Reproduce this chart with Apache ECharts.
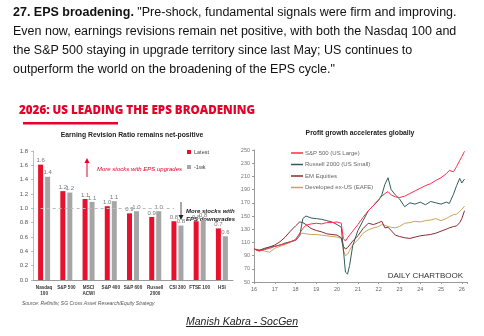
<!DOCTYPE html>
<html><head><meta charset="utf-8">
<script src="https://cdn.jsdelivr.net/npm/echarts@6/dist/echarts.min.js"></script>
<style>
html,body{margin:0;padding:0;background:#fff;width:484px;height:336px;overflow:hidden;font-family:"Liberation Sans",Arial,sans-serif}
#chart{position:absolute;left:0;top:0;width:484px;height:336px}
#para{position:absolute;left:13px;top:3px;font-size:12.5px;line-height:19px;color:#111;white-space:nowrap}
#foot{position:absolute;left:0;width:484px;top:315px;text-align:center;font-style:italic;text-decoration:underline;font-size:10.5px;color:#222}
</style></head>
<body>
<div id="chart"></div>
<div id="para"><b>27. EPS broadening.</b> "Pre-shock, fundamental signals were firm and improving.<br>Even now, earnings revisions remain net positive, with both the Nasdaq 100 and<br>the S&amp;P 500 staying in upgrade territory since last May; US continues to<br>outperform the world on the broadening of the EPS cycle."</div>
<div id="foot">Manish Kabra - SocGen</div>
<script>
// ---- Left chart data ----
const categories = ['Nasdaq\n100','S&P 500','MSCI\nACWI','S&P 400','S&P 600','Russell\n2000','CSI 300','FTSE 100','HSI'];
const latest = [1.61, 1.24, 1.13, 1.03, 0.93, 0.88, 0.82, 0.82, 0.72];
const oneWeek = [1.44, 1.22, 1.09, 1.10, 0.96, 0.96, 0.76, 0.84, 0.61];

// ---- Right chart data (index, start = 100) ----
const dates = [16.0,16.25,16.5,16.75,17.0,17.25,17.5,17.75,18.0,18.2,18.35,18.5,18.75,19.0,19.25,19.5,19.75,20.0,20.2,20.3,20.4,20.5,20.6,20.75,21.0,21.25,21.5,21.75,22.0,22.15,22.3,22.45,22.6,22.8,23.0,23.25,23.5,23.75,24.0,24.25,24.5,24.75,25.0,25.25,25.4,25.6,25.75,25.9,26.0,26.13];
const sp500 = [100,97,99,101,104,106,108,111,114,124,131,136,138,139,138,140,140,141,139,116,112,117,121,127,137,148,158,166,175,180,184,187,182,179,178,180,184,188,192,196,199,204,208,214,219,217,225,234,240,248];
const russell2000 = [100,98,101,103,104,106,109,111,113,120,146,150,147,146,145,143,141,137,133,100,65,62,75,105,128,143,158,166,174,182,198,208,190,182,176,164,170,168,171,167,172,170,168,171,169,183,196,207,200,206];
const emEquities = [100,97,100,103,106,111,118,127,135,141,140,137,131,128,126,123,122,121,117,104,100,102,106,112,120,131,139,137,140,142,132,133,128,121,119,117,116,118,120,121,122,124,127,130,132,134,135,140,146,158];
const eafe = [100,99,97,95,101,104,107,110,115,122,124,123,122,122,121,120,119,118,116,98,90,92,98,106,114,124,129,132,134,137,136,134,133,132,134,139,140,142,141,143,144,146,143,146,149,152,153,157,160,165];
const lineNames = ['S&P 500 (US Large)','Russell 2000 (US Small)','EM Equities','Developed ex-US (EAFE)'];
const lineValues = [sp500, russell2000, emEquities, eafe];
const lineColors = ['#ff2d4b','#2f5d5c','#8a2a33','#c9a35c'];

const FF = '"Liberation Sans", Arial, sans-serif';
const chart = echarts.init(document.getElementById('chart'), null, {renderer:'canvas'});

const lineSeries = lineNames.map((n,k)=>({
  name:n, type:'line', xAxisIndex:1, yAxisIndex:1, showSymbol:false, symbol:'none',
  lineStyle:{width:1, color:lineColors[k]}, itemStyle:{color:lineColors[k]},
  z: 10 - k,
  data: dates.map((d,i)=>[d, lineValues[k][i]])
}));

const fmt1 = p => p.value.toFixed(1);

chart.setOption({
  animation:false,
  textStyle:{fontFamily:FF},
  grid:[
    {left:33, top:151, width:200, height:129},
    {left:254, top:150, width:213, height:132}
  ],
  xAxis:[
    {type:'category', gridIndex:0, data:categories,
     axisLine:{lineStyle:{color:'#999'}}, axisTick:{show:false},
     axisLabel:{interval:0, fontSize:4.6, fontWeight:'bold', color:'#333', lineHeight:6.5, margin:4}},
    {type:'value', gridIndex:1, min:16, max:26.25, interval:1,
     axisLine:{show:true, lineStyle:{color:'#999'}}, axisTick:{show:true, length:2, lineStyle:{color:'#999'}},
     splitLine:{show:false},
     axisLabel:{fontSize:5.5, color:'#666', margin:4, formatter:v=>Number.isInteger(v)?String(v):''}}
  ],
  yAxis:[
    {type:'value', gridIndex:0, min:0, max:1.8, interval:0.2,
     axisLine:{show:true, lineStyle:{color:'#bbb'}}, axisTick:{show:true, length:2, lineStyle:{color:'#bbb'}},
     splitLine:{show:false},
     axisLabel:{fontSize:6, color:'#555', margin:5, formatter:v=>v.toFixed(1)}},
    {type:'value', gridIndex:1, min:50, max:250, interval:20,
     axisLine:{show:true, lineStyle:{color:'#999'}}, axisTick:{show:true, length:2, lineStyle:{color:'#999'}},
     splitLine:{show:false},
     axisLabel:{fontSize:5.5, color:'#777', margin:4}}
  ],
  legend:[
    {data:['Latest','-1wk'], orient:'vertical', left:182, top:144, itemWidth:4, itemHeight:4, itemGap:9,
     icon:'rect', textStyle:{fontSize:5.5, color:'#444', padding:[0,0,0,-2]}},
    {data:lineNames, orient:'vertical', left:286, top:145, itemWidth:12, itemHeight:1.5, itemGap:5.5,
     icon:'rect', textStyle:{fontSize:6, color:'#666', padding:[0,0,0,-3]}}
  ],
  series:[
    {name:'Latest', type:'bar', xAxisIndex:0, yAxisIndex:0, data:latest, barWidth:5, barGap:'40%',
     itemStyle:{color:'#e8102c'},
     label:{show:true, position:'top', distance:1, fontSize:6, color:'#777', formatter:fmt1},
     markLine:{silent:true, symbol:'none', label:{show:false},
       lineStyle:{type:[3,3], color:'#bbb', width:1},
       data:[[{coord:[0,1]},{coord:[6,1]}]]}},
    {name:'-1wk', type:'bar', xAxisIndex:0, yAxisIndex:0, data:oneWeek, barWidth:5,
     itemStyle:{color:'#a6a6a6'},
     label:{show:true, position:'top', distance:1, fontSize:6, color:'#777', formatter:fmt1}},
    ...lineSeries
  ],
  graphic:[
    {type:'text', style:{text:'2026: US LEADING THE EPS BROADENING', x:19, y:111, verticalAlign:'middle',
      fill:'#e6002a', fontSize:11.6, fontWeight:800, fontFamily:'"Open Sans", Arial, sans-serif'}},
    {type:'rect', shape:{x:23, y:122, width:95, height:2.5}, style:{fill:'#e6002a'}},
    {type:'text', style:{text:'Earning Revision Ratio remains net-positive', x:132, y:135, align:'center', verticalAlign:'middle',
      fill:'#222', fontSize:6.8, fontWeight:'bold', fontFamily:FF}},
    {type:'text', style:{text:'Profit growth accelerates globally', x:360, y:133, align:'center', verticalAlign:'middle',
      fill:'#222', fontSize:6.8, fontWeight:'bold', fontFamily:FF}},
    // upgrade arrow
    {type:'line', shape:{x1:87, y1:177, x2:87, y2:162}, style:{stroke:'#e6002a', lineWidth:1}},
    {type:'polygon', shape:{points:[[84.5,163],[89.5,163],[87,158]]}, style:{fill:'#e6002a'}},
    {type:'text', style:{text:'More stocks with EPS upgrades', x:97, y:169, verticalAlign:'middle',
      fill:'#e6002a', fontSize:6, fontStyle:'italic', fontFamily:FF}},
    // downgrade arrow
    {type:'line', shape:{x1:181, y1:202, x2:181, y2:216}, style:{stroke:'#222', lineWidth:0.8}},
    {type:'polygon', shape:{points:[[178.5,215],[183.5,215],[181,220]]}, style:{fill:'#222'}},
    {type:'text', style:{text:'More stocks with\nEPS downgrades', x:186, y:207, lineHeight:8,
      fill:'#222', fontSize:6, fontStyle:'italic', fontWeight:'bold', fontFamily:FF}},
    {type:'text', style:{text:'DAILY CHARTBOOK', x:463, y:276, align:'right', verticalAlign:'middle',
      fill:'#333', fontSize:8, fontFamily:FF}},
    {type:'text', style:{text:'Source: Refinitiv, SG Cross Asset Research/Equity Strategy', x:22, y:304, verticalAlign:'middle',
      fill:'#555', fontSize:5, fontStyle:'italic', fontFamily:FF}}
  ]
});
</script>
</body></html>
